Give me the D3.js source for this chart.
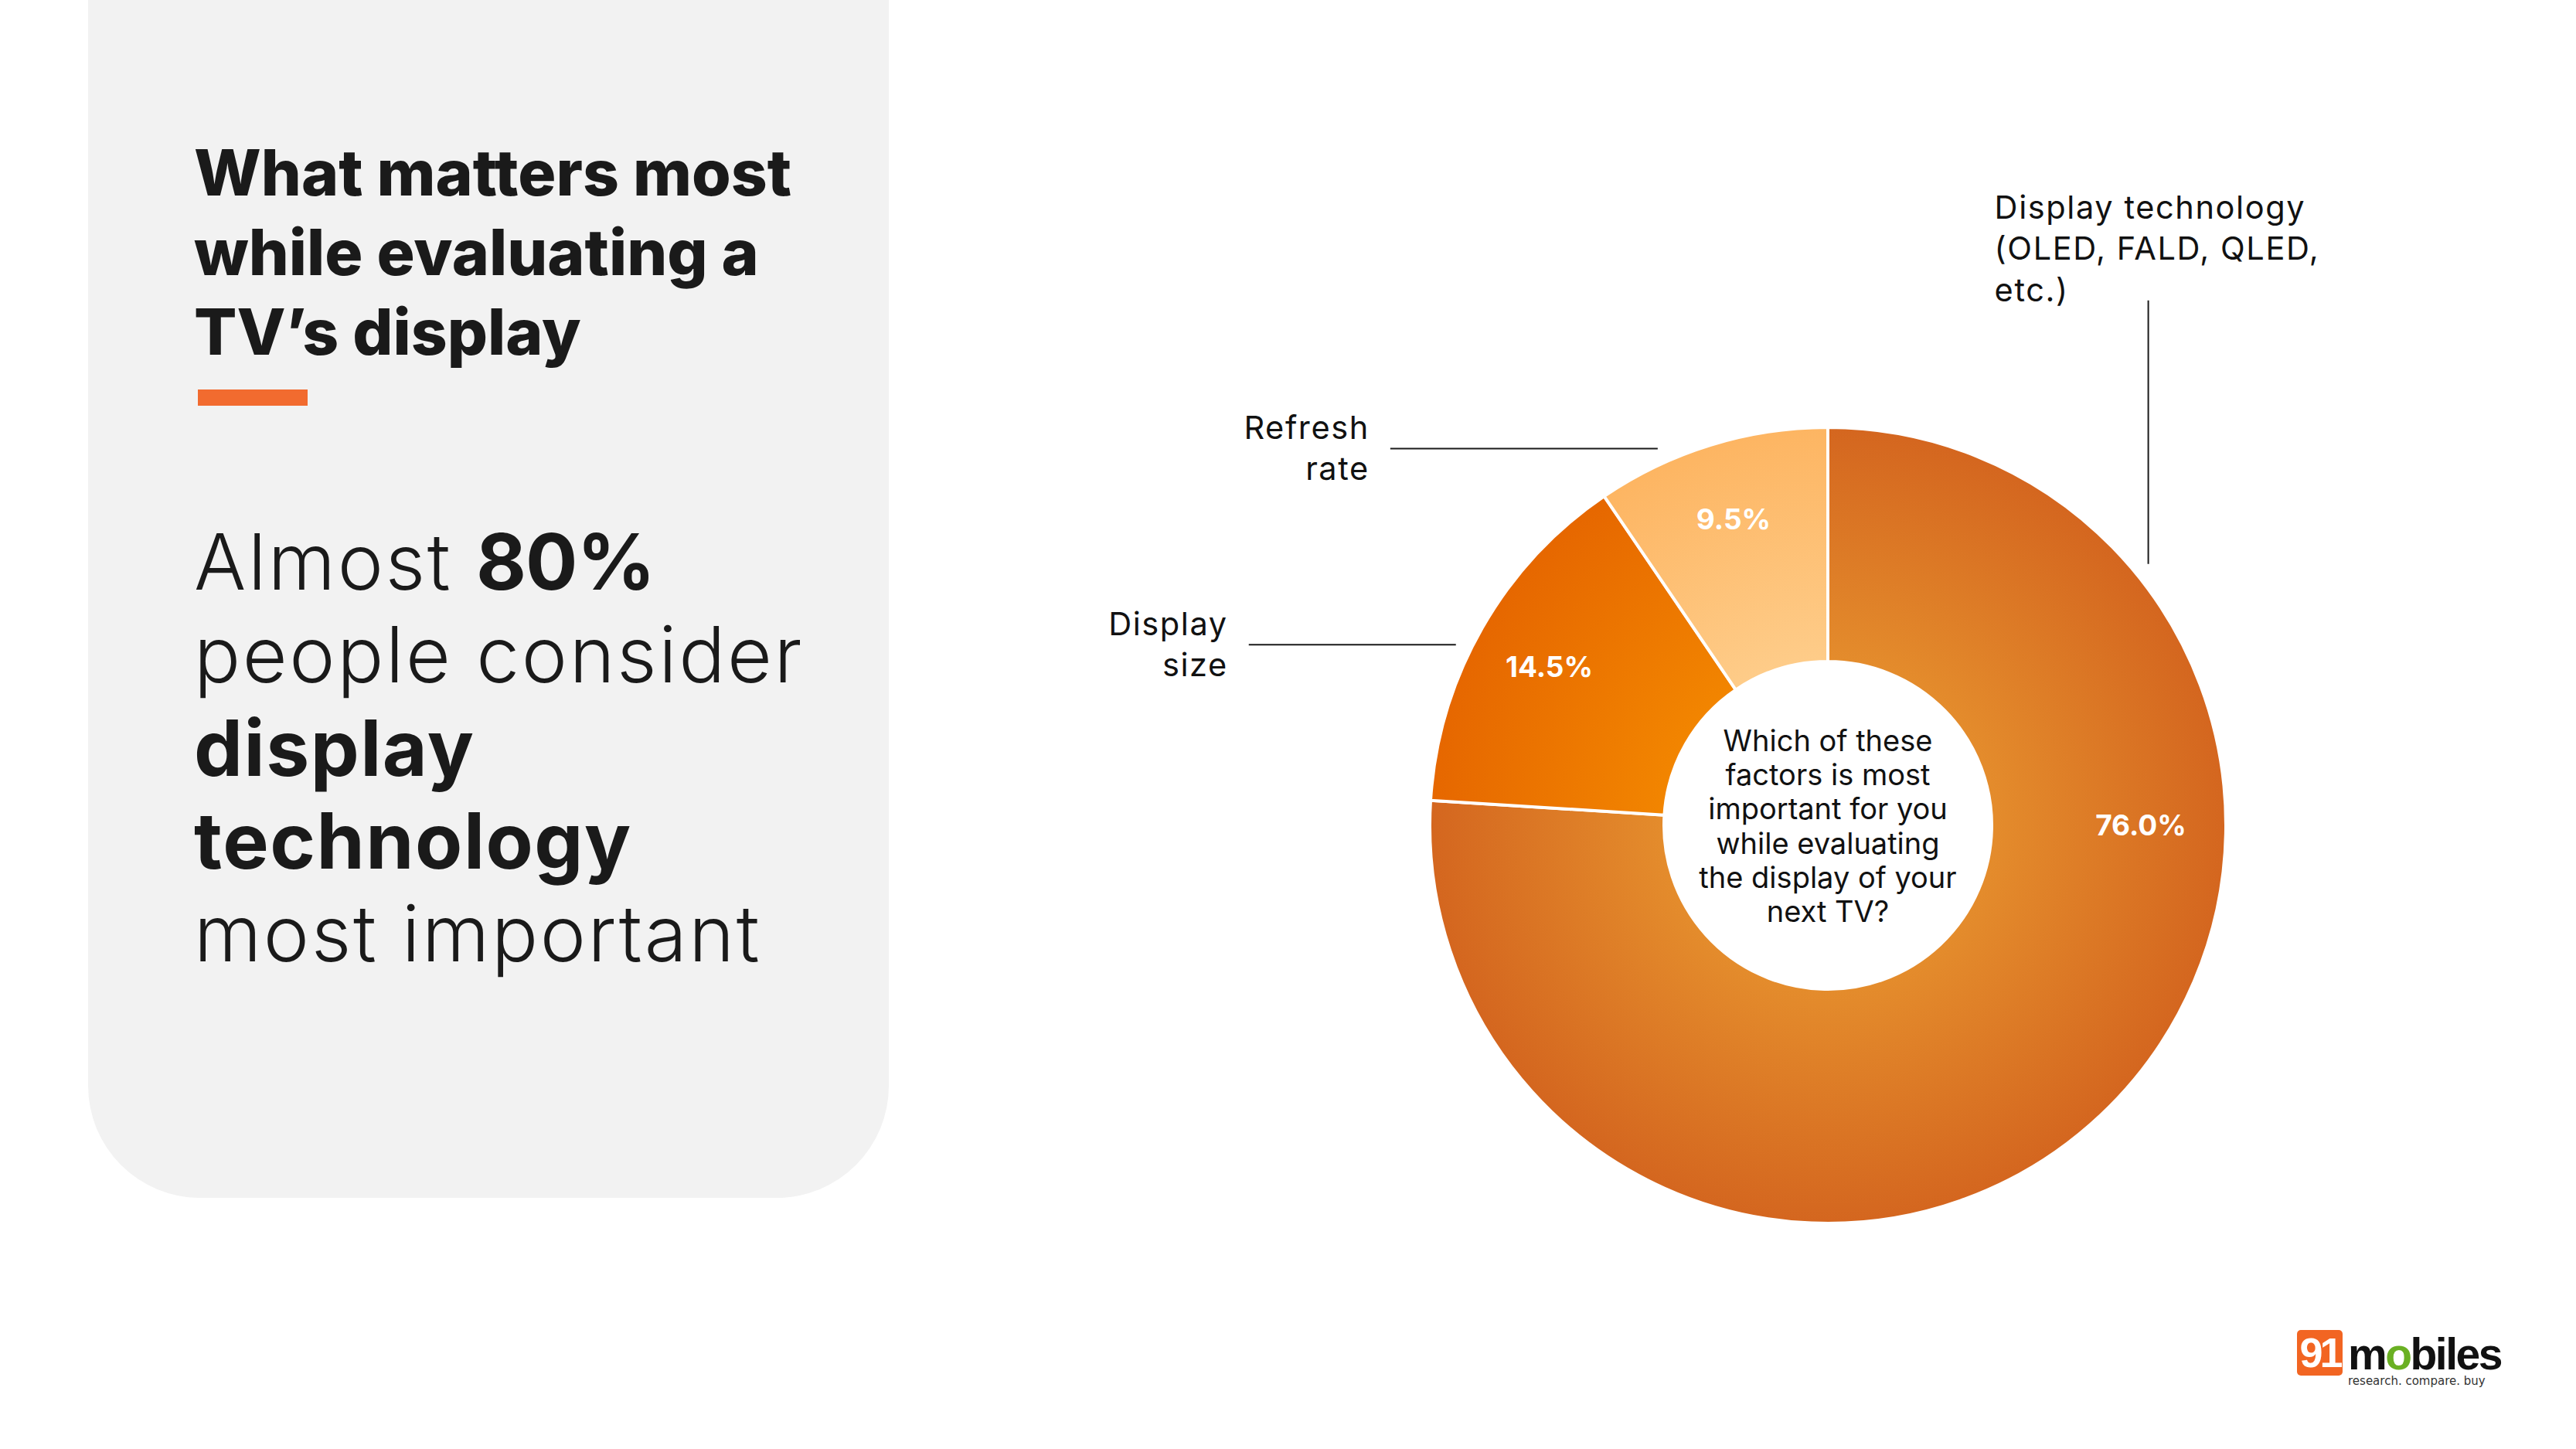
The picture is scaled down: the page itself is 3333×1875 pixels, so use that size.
<!DOCTYPE html>
<html>
<head>
<meta charset="utf-8">
<script src="https://cdn.jsdelivr.net/npm/d3@7"></script>
<style>
html, body { margin: 0; padding: 0; background: #ffffff; }
svg { display: block; }
</style>
</head>
<body>
<div id="chart"></div>
<script>
// chart data
var categories = ["Display technology (OLED, FALD, QLED, etc.)", "Display size", "Refresh rate"];
var shares = [76.0, 14.5, 9.5];
var categoryLines = [["Display technology", "(OLED, FALD, QLED,", "etc.)"], ["Display", "size"], ["Refresh", "rate"]];
var questionLines = ["Which of these", "factors is most", "important for you", "while evaluating", "the display of your", "next TV?"];
var titleLines = ["What matters most", "while evaluating a", "TV\u2019s display"];
var takeawayLines = [
	[["Almost ", false], ["80%", true]],
	[["people consider", false]],
	[["display", true]],
	[["technology", true]],
	[["most important", false]]
];

var W = 3333, H = 1875;
var cx = 2365, cy = 1068, rOuter = 515, rInner = 212;
// inner / outer colour of each slice's radial gradient
var sliceColors = [["#e48c2c", "#d4661f"], ["#f28500", "#e66700"], ["#fecc89", "#fdb562"]];
// leader line: angle on the ring (deg, clockwise from top), direction, length
var leaders = [
	{ angle: 50.8, dir: "up", len: 341 },
	{ angle: 295.9, dir: "left", len: 268 },
	{ angle: 335.7, dir: "left", len: 346 }
];

var svg = d3.select("#chart").append("svg").attr("width", W).attr("height", H);
var defs = svg.append("defs");

// left panel
svg.append("rect").attr("x", 114).attr("y", -300).attr("width", 1036).attr("height", 1850)
	.attr("rx", 145).attr("ry", 145).attr("fill", "#f2f2f2");

var titleFont = "Inter, 'Noto Sans', sans-serif";
var title = svg.append("text").attr("font-family", titleFont).attr("font-weight", 800)
	.attr("font-size", 82).attr("fill", "#1a1a1a");
titleLines.forEach(function(line, i) {
	title.append("tspan").attr("x", 251).attr("y", 253 + i * 103).text(line);
});

svg.append("rect").attr("x", 256).attr("y", 504).attr("width", 142).attr("height", 21).attr("fill", "#f26b2f");

var takeaway = svg.append("text").attr("font-family", titleFont).attr("font-size", 100).attr("fill", "#1a1a1a");
takeawayLines.forEach(function(parts, i) {
	parts.forEach(function(p, j) {
		var ts = takeaway.append("tspan").attr("font-weight", p[1] ? 700 : 300)
			.attr("letter-spacing", p[1] ? (j > 0 ? -1 : 1.5) : 2.6).text(p[0]);
		if (j === 0) ts.attr("x", 251).attr("y", 763 + i * 120.3);
	});
});

// donut
var pie = d3.pie().sort(null).value(function(d) { return d; });
var arcs = pie(shares);
var arc = d3.arc().innerRadius(rInner).outerRadius(rOuter);
var labelArc = d3.arc().innerRadius(415).outerRadius(415);

sliceColors.forEach(function(c, i) {
	var g = defs.append("radialGradient").attr("id", "grad" + i)
		.attr("gradientUnits", "userSpaceOnUse").attr("cx", 0).attr("cy", 0).attr("r", rOuter);
	g.append("stop").attr("offset", rInner / rOuter).attr("stop-color", c[0]);
	g.append("stop").attr("offset", 1).attr("stop-color", c[1]);
});

var donut = svg.append("g").attr("transform", "translate(" + cx + "," + cy + ")");
donut.selectAll("path.slice").data(arcs).enter().append("path")
	.attr("class", "slice")
	.attr("d", arc)
	.attr("fill", function(d, i) { return "url(#grad" + i + ")"; })
	.attr("stroke", "#ffffff").attr("stroke-width", 4).attr("stroke-linejoin", "round");

donut.selectAll("text.pct").data(arcs).enter().append("text")
	.attr("class", "pct")
	.attr("transform", function(d, i) {
		// the big slice carries its value at the right side of the ring
		var p = i === 0 ? [405, 0] : labelArc.centroid(d);
		return "translate(" + p[0] + "," + p[1] + ")";
	})
	.attr("text-anchor", "middle").attr("dy", "0.36em")
	.attr("font-family", titleFont).attr("font-weight", 700).attr("font-size", 37)
	.attr("fill", "#ffffff")
	.text(function(d) { return d3.format(".1f")(d.data) + "%"; });

// question in the hole
var q = donut.append("text").attr("text-anchor", "middle")
	.attr("font-family", titleFont).attr("font-size", 38).attr("fill", "#111111");
questionLines.forEach(function(line, i) {
	q.append("tspan").attr("x", 0).attr("y", -96 + i * 44.2).text(line);
});

// leader lines and category labels
leaders.forEach(function(ld, i) {
	var a = ld.angle * Math.PI / 180;
	var r = rOuter + 20;
	var x1 = Math.sin(a) * r, y1 = -Math.cos(a) * r;
	var x2 = ld.dir === "up" ? x1 : x1 - ld.len;
	var y2 = ld.dir === "up" ? y1 - ld.len : y1;
	donut.append("line").attr("x1", x1).attr("y1", y1).attr("x2", x2).attr("y2", y2)
		.attr("stroke", "#1a1a1a").attr("stroke-width", 2);
	var t = donut.append("text").attr("font-family", titleFont).attr("font-size", 41.5)
		.attr("letter-spacing", 1.6).attr("fill", "#111111");
	categoryLines[i].forEach(function(line, k) {
		var ts = t.append("tspan").text(line);
		if (ld.dir === "up") {
			ts.attr("x", x2 - 199).attr("y", y2 - 106 + k * 53.5);
		} else {
			ts.attr("x", x2 - 27).attr("y", y2 - 12 + k * 53);
		}
	});
	if (ld.dir !== "up") t.attr("text-anchor", "end");
});

// logo
var logo = svg.append("g").attr("transform", "translate(2972,1721)");
logo.append("rect").attr("width", 59).attr("height", 59).attr("rx", 5).attr("fill", "#f26522");
logo.append("text").attr("x", 29.5).attr("y", 48).attr("text-anchor", "middle")
	.attr("font-family", "'Liberation Sans', Arial, sans-serif").attr("font-weight", 700)
	.attr("font-size", 54).attr("letter-spacing", -4).attr("fill", "#ffffff").text("91");
var word = logo.append("text").attr("x", 66).attr("y", 51)
	.attr("font-family", "'Liberation Sans', Arial, sans-serif").attr("font-weight", 700)
	.attr("font-size", 57).attr("letter-spacing", -2.5).attr("fill", "#111111");
word.append("tspan").text("m");
word.append("tspan").attr("fill", "#6ab023").text("o");
word.append("tspan").text("biles");
logo.append("text").attr("x", 66).attr("y", 71)
	.attr("font-family", "'DejaVu Sans', sans-serif").attr("font-size", 15)
	.attr("fill", "#333333").text("research. compare. buy");
</script>
</body>
</html>
